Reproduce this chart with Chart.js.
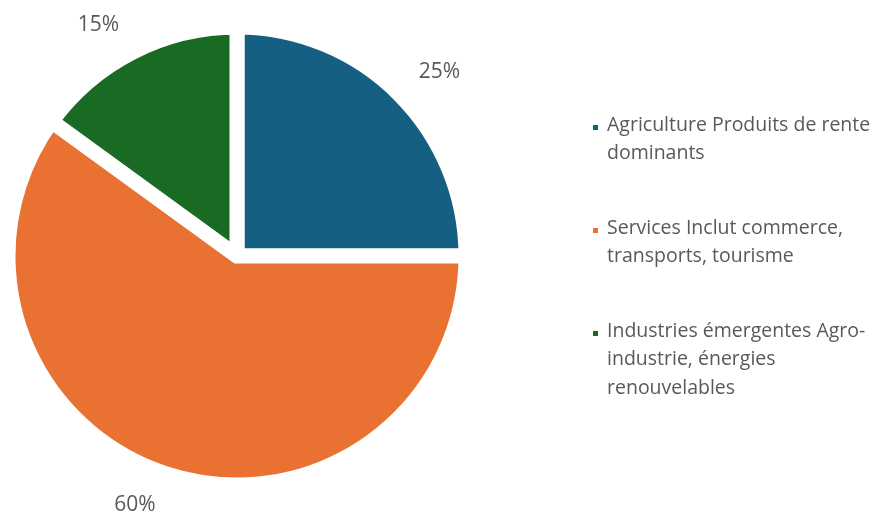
<!DOCTYPE html>
<html lang="fr">
<head>
<meta charset="utf-8">
<title>Répartition sectorielle</title>
<script src="https://cdn.jsdelivr.net/npm/chart.js@4/dist/chart.umd.min.js"></script>
<style>
  html, body { margin: 0; padding: 0; background: #ffffff; }
  #wrap { position: relative; width: 882px; height: 513px; overflow: hidden; }
  #pie { position: absolute; left: 0; top: 0; }
  #legend {
    position: absolute; left: 607px; top: 109.5px; width: 274px;
    font-family: "Open Sans", sans-serif; font-size: 19.5px; line-height: 28.5px;
    color: #595959;
  }
  #legend .item { position: relative; margin-bottom: 46px; }
  #legend .swatch { position: absolute; left: -14px; top: 15px; width: 5px; height: 5px; }
</style>
</head>
<body>
<div id="wrap">
  <canvas id="pie" width="882" height="513"></canvas>
  <div id="legend"></div>
</div>
<script>
// Sectors and their share of the economy (%)
const categories = [
  "Agriculture Produits de rente dominants",
  "Services Inclut commerce, transports, tourisme",
  "Industries émergentes Agro-industrie, énergies renouvelables"
];
const shares = [25, 60, 15];
const sliceColors = ["#156082", "#E97132", "#196B24"];

const textColor = "#595959";
const labelSize = 21;
const labelFont = labelSize + 'px "Open Sans", sans-serif';

// Percentage labels placed just outside each slice, box corner on the bisector
const outsideLabels = {
  id: "outsideLabels",
  afterDatasetsDraw(chart) {
    const ctx = chart.ctx;
    const meta = chart.getDatasetMeta(0);
    ctx.save();
    ctx.font = labelFont;
    ctx.fillStyle = textColor;
    ctx.textAlign = "center";
    ctx.textBaseline = "alphabetic";
    meta.data.forEach((arc, i) => {
      const p = arc.getProps(["x", "y", "startAngle", "endAngle", "outerRadius"], true);
      const mid = (p.startAngle + p.endAngle) / 2;
      const dx = Math.cos(mid), dy = Math.sin(mid);
      const r = p.outerRadius + 23;
      const ax = p.x + dx * r, ay = p.y + dy * r;
      const text = shares[i] + "%";
      const w = ctx.measureText(text).width + 7;
      const h = 15;
      const cx = ax + Math.sign(dx) * w / 2;
      const cy = ay + Math.sign(dy) * h / 2;
      ctx.fillText(text, cx, cy + 0.357 * labelSize);
    });
    ctx.restore();
  }
};

const chart = new Chart(document.getElementById("pie"), {
  type: "pie",
  data: {
    labels: categories,
    datasets: [{
      data: shares,
      backgroundColor: sliceColors,
      borderColor: "#ffffff",
      borderWidth: 15,
      // sharp corner at the centre for the large slice, no spike from the narrow one
      borderJoinStyle: ["miter", "miter", "bevel"],
      radius: 229,
      hoverOffset: 0
    }]
  },
  options: {
    responsive: false,
    animation: false,
    layout: { padding: { left: 0, right: 408, top: 0, bottom: 1 } },
    plugins: {
      legend: { display: false },
      tooltip: { enabled: false }
    }
  },
  plugins: [outsideLabels]
});

// Legend on the right, built from the chart data
const legend = document.getElementById("legend");
categories.forEach((name, i) => {
  const item = document.createElement("div");
  item.className = "item";
  const sw = document.createElement("span");
  sw.className = "swatch";
  sw.style.background = sliceColors[i];
  item.appendChild(sw);
  item.appendChild(document.createTextNode(name));
  legend.appendChild(item);
});
</script>
</body>
</html>
